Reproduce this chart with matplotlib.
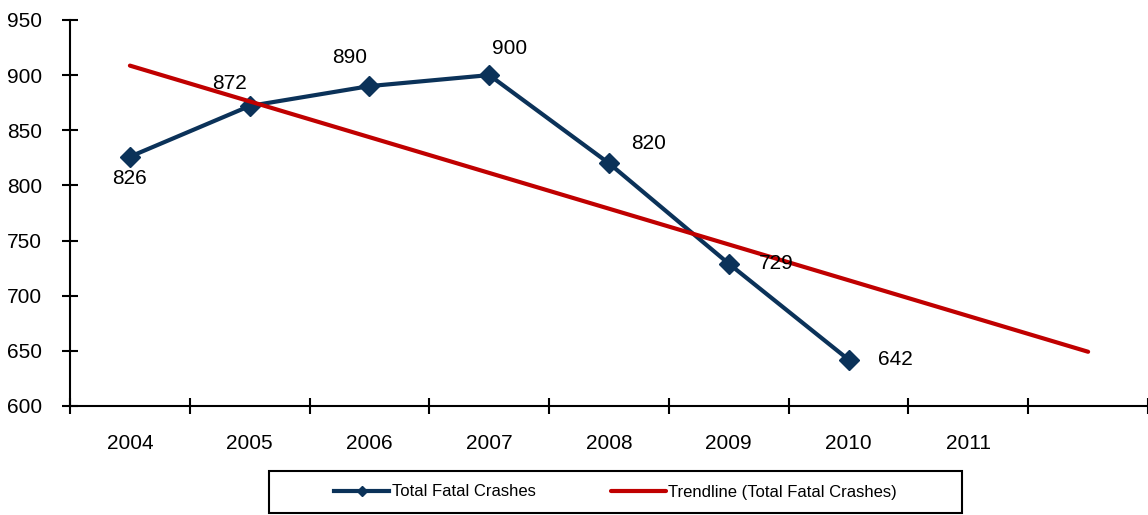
import numpy as np
import matplotlib.pyplot as plt
from matplotlib.patches import Rectangle

plt.rcParams['font.family'] = ['Liberation Sans Narrow', 'Liberation Sans', 'DejaVu Sans']

# Total fatal crashes per year
years = ['2004', '2005', '2006', '2007', '2008', '2009', '2010', '2011']
crashes = [826, 872, 890, 900, 820, 729, 642]
# label offsets (pixels) for each data label
label_offsets = [(0, -22), (-20, 22), (-20, 29), (20, 27), (40, 20), (47, 0), (47, 0)]

x = np.arange(len(crashes))
# linear trendline, projected two periods ahead
slope, intercept = np.polyfit(x, crashes, 1)
x_trend = np.array([0, len(crashes) + 1])
y_trend = slope * x_trend + intercept

fig = plt.figure(figsize=(11.48, 5.15), dpi=100)
ax = fig.add_axes([0.061, 0.2117, 0.939, 0.7496])

ax.plot(x, crashes, color='#0B3259', lw=3, marker='D', markersize=10,
        label='Total Fatal Crashes', zorder=3)
ax.plot(x_trend, y_trend, color='#C00000', lw=3,
        label='Trendline (Total Fatal Crashes)', solid_capstyle='round', zorder=4)

for xi, yi, off in zip(x, crashes, label_offsets):
    ax.annotate(str(yi), (xi, yi), xytext=off, textcoords='offset pixels',
                ha='center', va='center', fontsize=15, zorder=5)

ax.set_xlim(-0.5, 8.5)
ax.set_ylim(600, 950)
ax.set_yticks(range(600, 951, 50))
ax.set_xticks(np.arange(-0.5, 9, 1))
ax.set_xticklabels([])
ax.set_xticks(np.arange(len(years)), labels=years, minor=True)
ax.tick_params(axis='x', which='minor', length=0, pad=20, labelsize=15)
ax.tick_params(axis='x', which='major', direction='inout', length=12, width=1.5)
ax.tick_params(axis='y', direction='inout', length=12, width=1.5, labelsize=15, pad=14)

for side in ['top', 'right']:
    ax.spines[side].set_visible(False)
for side in ['left', 'bottom']:
    ax.spines[side].set_linewidth(1.5)

# legend box below the plot
box = (269 / 1148, 1 - 513 / 515, 693 / 1148, 42 / 515)
fig.patches.append(Rectangle(box[:2], box[2], box[3], transform=fig.transFigure,
                             fill=False, edgecolor='black', lw=1.5))
fig.legend(loc='center', bbox_to_anchor=(box[0] + box[2] / 2, box[1] + box[3] / 2),
           ncol=2, fontsize=12, frameon=False,
           handlelength=3.3, handletextpad=0.15, columnspacing=4.5,
           markerscale=0.5)

fig.savefig('out.png', dpi=100)
